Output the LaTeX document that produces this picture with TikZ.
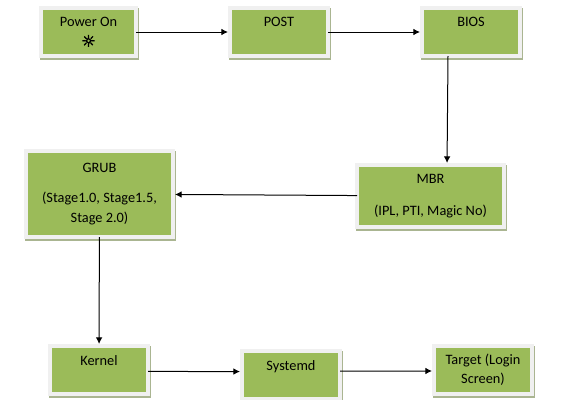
\documentclass[tikz,border=0pt]{standalone}
\usepackage{fontspec}
\setmainfont{Carlito}
\newfontfamily\symbolfont[FakeBold=3]{DejaVu Sans}
\usepackage{xcolor}
\definecolor{boxfill}{RGB}{155,187,89}
\definecolor{boxframe}{RGB}{240,240,240}
\definecolor{boxshade}{RGB}{170,181,145}
\usetikzlibrary{arrows.meta, positioning, shadows}

\begin{document}
\begin{tikzpicture}[
  x=0.75bp, y=-0.75bp,
  node distance=0.32cm,
  stagebox/.style={
    draw=boxframe, line width=3bp, fill=boxfill,
    outer sep=0pt, inner sep=0pt,
    minimum width=73.5bp, minimum height=36bp,
    font=\fontsize{10.8}{14.6}\selectfont, align=center,
    general shadow={fill=boxshade, draw=boxshade, shadow xshift=1.1bp, shadow yshift=-1.5bp},
  },
  flow/.style={
    draw, line width=0.75bp, shorten >=1.5bp,
    -{Latex[length=5bp,width=5bp]},
  }
]
\useasboundingbox (0,0) rectangle (580,400);
\node[stagebox, minimum width=71.25bp] (power) at (88.5,32) {Power On\\[0.5bp]{\symbolfont\fontsize{12}{12}\selectfont ☼}};
\node[stagebox] (post)  [right=70.5bp of power] {POST\\~};
\node[stagebox] (bios)  [right=70.5bp of post]  {BIOS\\~};
\node[stagebox, minimum width=110.25bp, minimum height=64.5bp] (grub) at (99.5,194)
  {GRUB\\[8.2bp](Stage1.0, Stage1.5,\\Stage 2.0)};
\node[stagebox, minimum width=110.25bp, minimum height=46.5bp] (mbr) at (430.5,196)
  {MBR\\[10bp](IPL, PTI, Magic No)};
\node[stagebox] (kernel) at (99,370) {Kernel\\~};
\node[stagebox] (systemd) at (291,375) {Systemd\\~};
\node[stagebox] (target) at (483,370) {Target (Login\\Screen)};

\draw[flow] (power) -- (post);
\draw[flow] (post) -- (bios);
\draw[flow] ([xshift=-17.25bp]bios.south) -- ([xshift=12.4bp]mbr.north);
\draw[flow] (mbr) -- (grub);
\draw[flow] (grub) -- (kernel);
\draw[flow] ([yshift=-1.1bp]kernel.east) -- ([yshift=2.6bp]systemd.west);
\draw[flow] ([yshift=3bp]systemd.east) -- ([yshift=-0.75bp]target.west);
\end{tikzpicture}
\end{document}
